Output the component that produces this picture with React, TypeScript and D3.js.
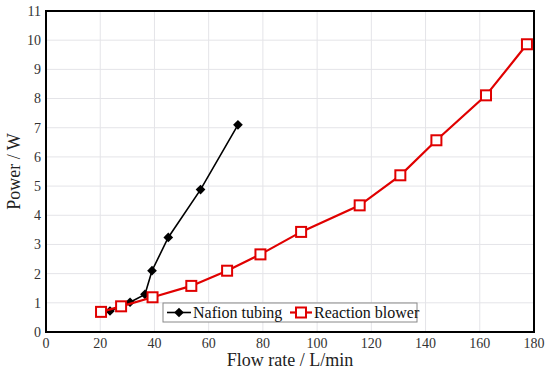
import { useRef, useEffect } from 'react'
import * as d3 from 'd3'

// Nafion tubing series
const nafionFlow = [23.6, 31.0, 36.5, 39.1, 45.1, 57.0, 70.8]
const nafionPower = [0.72, 1.02, 1.29, 2.1, 3.24, 4.88, 7.1]

// Reaction blower series
const blowerFlow = [20.3, 27.7, 39.3, 53.6, 66.8, 79.1, 94.1, 115.7, 130.7, 144.0, 162.3, 177.4]
const blowerPower = [0.69, 0.88, 1.19, 1.58, 2.1, 2.66, 3.43, 4.34, 5.37, 6.57, 8.11, 9.86]

const xTicks = [0, 20, 40, 60, 80, 100, 120, 140, 160, 180]
const yTicks = [0, 1, 2, 3, 4, 5, 6, 7, 8, 9, 10, 11]

const seriesNames = ["Nafion tubing", "Reaction blower"]

export default function App() {
  const svgRef = useRef<SVGSVGElement>(null)
  const width = 550
  const height = 371

  useEffect(() => {
    if (!svgRef.current) return
    const svg = d3.select(svgRef.current)
    svg.selectAll("*").remove()

    const m = { left: 46, top: 11, right: 16, bottom: 39 }
    const x = d3.scaleLinear().domain([0, 180]).range([m.left, width - m.right])
    const y = d3.scaleLinear().domain([0, 11]).range([height - m.bottom, m.top])
    const font = "Liberation Serif, DejaVu Serif, serif"

    svg.append("rect").attr("width", width).attr("height", height).attr("fill", "#fff")

    // grid
    const grid = svg.append("g")
    grid.selectAll(".gx").data(xTicks.slice(1, -1)).enter().append("line")
      .attr("x1", d => x(d)).attr("x2", d => x(d))
      .attr("y1", y(0)).attr("y2", y(11))
      .style("stroke", "#e4e4e8").style("stroke-width", 1)
    grid.selectAll(".gy").data(yTicks.slice(1, -1)).enter().append("line")
      .attr("x1", x(0)).attr("x2", x(180))
      .attr("y1", d => y(d)).attr("y2", d => y(d))
      .style("stroke", "#e4e4e8").style("stroke-width", 1)

    // tick labels
    svg.append("g").selectAll("text").data(xTicks).enter().append("text")
      .attr("x", d => x(d)).attr("y", y(0) + 16)
      .attr("text-anchor", "middle")
      .attr("font-family", font).attr("font-size", 14).attr("fill", "#333")
      .text(d => d)
    svg.append("g").selectAll("text").data(yTicks).enter().append("text")
      .attr("x", m.left - 5).attr("y", d => y(d)).attr("dy", "0.35em")
      .attr("text-anchor", "end")
      .attr("font-family", font).attr("font-size", 14).attr("fill", "#333")
      .text(d => d)

    // axis titles
    svg.append("text")
      .attr("x", (x(0) + x(180)) / 2).attr("y", height - 5)
      .attr("text-anchor", "middle")
      .attr("font-family", font).attr("font-size", 18).attr("fill", "#222")
      .text("Flow rate / L/min")
    svg.append("text")
      .attr("transform", `translate(20,${(y(0) + y(11)) / 2}) rotate(-90)`)
      .attr("text-anchor", "middle")
      .attr("font-family", font).attr("font-size", 18).attr("fill", "#222")
      .text("Power / W")

    // Nafion tubing
    const nafion = nafionFlow.map((f, i) => [x(f), y(nafionPower[i])] as [number, number])
    svg.append("path").attr("d", d3.line()(nafion))
      .style("fill", "none").style("stroke", "#000").style("stroke-width", 1.6)
    const diamond = d3.symbol().type(d3.symbolDiamond2).size(60)
    svg.selectAll(".nd").data(nafion).enter().append("path")
      .attr("d", diamond).attr("transform", d => `translate(${d[0]},${d[1]})`)
      .style("fill", "#000")

    // Reaction blower
    const blower = blowerFlow.map((f, i) => [x(f), y(blowerPower[i])] as [number, number])
    svg.append("path").attr("d", d3.line()(blower))
      .style("fill", "none").style("stroke", "#e00000").style("stroke-width", 2.2)
    svg.selectAll(".bs").data(blower).enter().append("rect")
      .attr("x", d => d[0] - 5).attr("y", d => d[1] - 5)
      .attr("width", 10).attr("height", 10)
      .style("fill", "#fff").style("stroke", "#e00000").style("stroke-width", 2)

    // frame
    svg.append("rect")
      .attr("x", x(0)).attr("y", y(11))
      .attr("width", x(180) - x(0)).attr("height", y(0) - y(11))
      .style("fill", "none").style("stroke", "#000").style("stroke-width", 2)

    // legend
    const lg = svg.append("g").attr("transform", "translate(163,303)")
    lg.append("rect").attr("width", 254).attr("height", 19)
      .style("fill", "#fff").style("stroke", "#888").style("stroke-width", 1)
    lg.append("line").attr("x1", 4).attr("x2", 28).attr("y1", 9.5).attr("y2", 9.5)
      .style("stroke", "#000").style("stroke-width", 1.6)
    lg.append("path").attr("d", diamond).attr("transform", "translate(16,9.5)").style("fill", "#000")
    lg.append("text").attr("x", 30).attr("y", 9.5).attr("dy", "0.35em")
      .attr("font-family", font).attr("font-size", 16).attr("fill", "#111")
      .text(seriesNames[0])
    lg.append("line").attr("x1", 127).attr("x2", 149).attr("y1", 9.5).attr("y2", 9.5)
      .style("stroke", "#e00000").style("stroke-width", 2.2)
    lg.append("rect").attr("x", 133).attr("y", 4.5).attr("width", 10).attr("height", 10)
      .style("fill", "#fff").style("stroke", "#e00000").style("stroke-width", 2)
    lg.append("text").attr("x", 151).attr("y", 9.5).attr("dy", "0.35em")
      .attr("font-family", font).attr("font-size", 16).attr("fill", "#111")
      .text(seriesNames[1])
  }, [])

  return (
    <svg
      ref={svgRef}
      width={width}
      height={height}
      style={{ position: 'absolute', left: 0, top: 0 }}
    />
  )
}
